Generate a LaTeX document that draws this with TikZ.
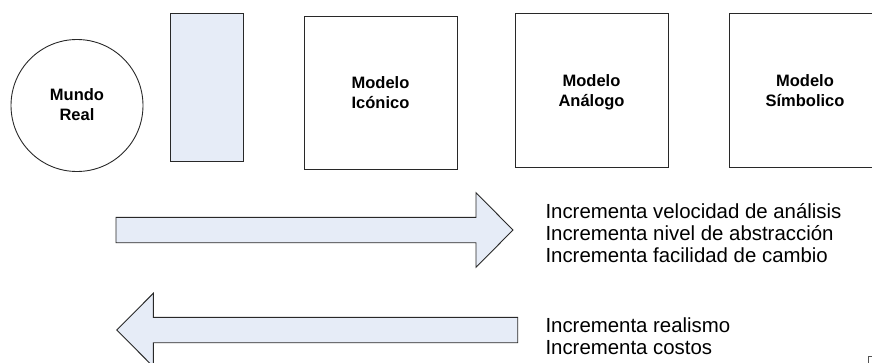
\documentclass[tikz,border=0pt]{standalone}
\usepackage{fontspec}
\setmainfont{Liberation Sans}
\definecolor{paleblue}{RGB}{230,236,247}
\definecolor{edge}{RGB}{40,40,40}
\tikzset{
  outline/.style={draw=edge, line width=0.9pt},
  modelbox/.style={outline, fill=white},
  bigarrow/.style={outline, fill=paleblue, line join=miter},
  boxlabel/.style={inner sep=0pt, anchor=north, align=center,
    font=\bfseries\fontsize{16.5}{20}\selectfont},
  notes/.style={inner sep=0pt, anchor=north west, align=left,
    font=\fontsize{20.4}{21.8}\selectfont},
}
\begin{document}
\begin{tikzpicture}[x=1pt, y=-1pt]
\useasboundingbox (0,0) rectangle (872,362);
\clip (0,0) rectangle (872,362);

% real world and the first (blank) model
\node[outline, circle, minimum size=132pt, inner sep=0pt] (world) at (77,105.5) {};
\node[boxlabel] (worldtxt) at (77,87.7) {\rule{0pt}{13pt}Mundo\\Real};
\draw[outline, fill=paleblue] (170,13) rectangle (243,161);
\coordinate (blank) at (206.5,87);

% model boxes
\draw[modelbox] (304,16) rectangle (457,169);
\node[boxlabel] (iconic) at (380.5,75.7) {\rule{0pt}{13pt}Modelo\\Icónico};
\draw[modelbox] (515,13) rectangle (668,167);
\node[boxlabel] (analog) at (591.5,73) {\rule{0pt}{13pt}Modelo\\Análogo};
\draw[modelbox] (729,13) rectangle (882,167);
\node[boxlabel] (symbolic) at (805,73) {\rule{0pt}{13pt}Modelo\\Símbolico};

% arrow pointing right
\draw[bigarrow] (116,217.3) -- (476,217.3) -- (476,192.7) -- (513,230)
  -- (476,267.3) -- (476,242.7) -- (116,242.7) -- cycle;
% arrow pointing left
\draw[bigarrow] (517.7,317.3) -- (153.3,317.3) -- (153.3,293.3) -- (116.7,330)
  -- (153.3,366.7) -- (153.3,342.7) -- (517.7,342.7) -- cycle;

% effects of moving along each direction
\node[notes] (forward) at (545.3,201.3) {\rule{0pt}{17pt}Incrementa velocidad de análisis\\
  Incrementa nivel de abstracción\\Incrementa facilidad de cambio};
\node[notes] (backward) at (545.3,315.7) {\rule{0pt}{17pt}Incrementa realismo\\Incrementa costos};

% corner of a further shape at the edge
\draw[draw=edge!80, line width=0.9pt] (868,363) -- (868,356) -- (872,356);
\end{tikzpicture}
\end{document}
